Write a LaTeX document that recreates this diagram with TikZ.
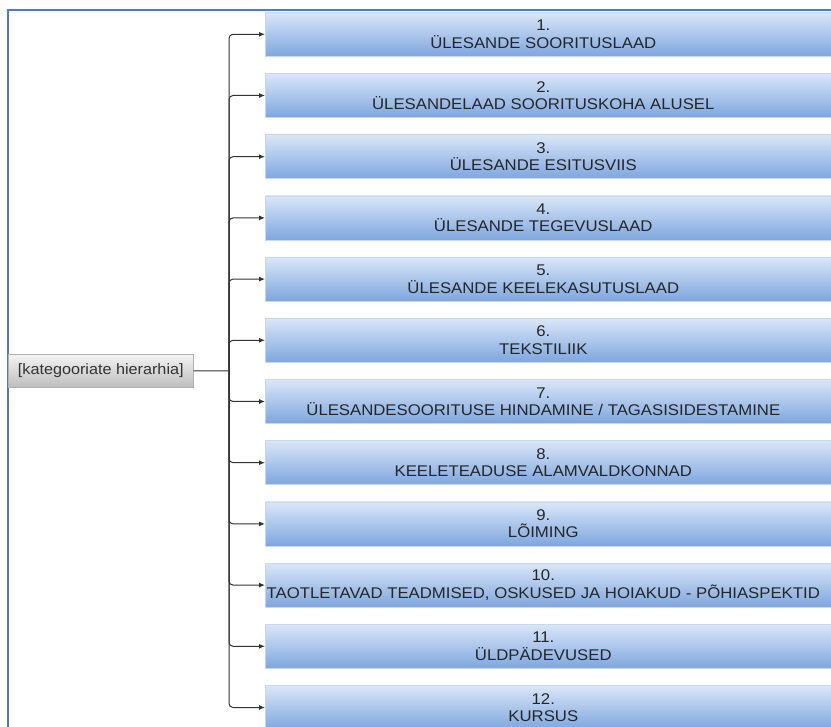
\documentclass[tikz,border=0pt]{standalone}
\usepackage{fontspec}
\setmainfont[FakeStretch=1.08]{Liberation Sans}
\usetikzlibrary{arrows.meta}
\definecolor{framecol}{HTML}{4A7BD0}
\definecolor{boxtop}{HTML}{DAE6F8}
\definecolor{boxbot}{HTML}{7EA6DE}
\definecolor{boxline}{HTML}{C9D7EC}
\definecolor{roottop}{HTML}{F4F4F4}
\definecolor{rootbot}{HTML}{BDBDBD}
\definecolor{rootline}{HTML}{B0B0B0}
\definecolor{connline}{HTML}{333333}
\newcommand{\shiftpad}{\hspace*{12pt}}
\tikzset{
  catbox/.style={rectangle, anchor=north west, minimum width=568pt, minimum height=44pt,
    inner sep=0pt, top color=boxtop, bottom color=boxbot, draw=boxline, line width=0.6pt,
    align=center, font=\fontsize{15.5}{17.5}\selectfont, text=black!85},
  rootbox/.style={rectangle, anchor=north west, minimum width=185pt, minimum height=33pt,
    inner sep=0pt, top color=roottop, bottom color=rootbot, draw=rootline, line width=0.6pt,
    font=\fontsize{15}{17}\selectfont, text=black!80},
  conn/.style={draw=connline, line width=1pt, rounded corners=4pt},
  arr/.style={conn, -{Latex[length=6pt,width=5pt]}}
}
\begin{document}
\begin{tikzpicture}[x=1pt,y=-1pt]
\useasboundingbox (0,0) rectangle (831,727);
\clip (0,0) rectangle (831,727);
% outer frame
\draw[framecol, line width=1.6pt] (8,740) -- (8,10) -- (840,10);
% root node
\node[rootbox] (root) at (8,354) {[kategooriate hierarhia]};
% category boxes
\foreach \i/\txt in {
  1/{ÜLESANDE SOORITUSLAAD},
  2/{ÜLESANDELAAD SOORITUSKOHA ALUSEL},
  3/{ÜLESANDE ESITUSVIIS},
  4/{ÜLESANDE TEGEVUSLAAD},
  5/{ÜLESANDE KEELEKASUTUSLAAD},
  6/{TEKSTILIIK},
  7/{ÜLESANDESOORITUSE HINDAMINE / TAGASISIDESTAMINE},
  8/{KEELETEADUSE ALAMVALDKONNAD},
  9/{LÕIMING},
  10/{TAOTLETAVAD TEADMISED, OSKUSED JA HOIAKUD - PÕHIASPEKTID},
  11/{ÜLDPÄDEVUSED},
  12/{KURSUS}}
{
  \node[catbox] (b\i) at (265,{12+61.2*(\i-1)}) {\i.\shiftpad\\\txt\shiftpad};
}
% connectors
\coordinate (tr) at (229,371);
\draw[conn] (root.east) -- (tr);
\foreach \i in {1,...,12}{
  \draw[arr] (tr) |- (b\i.west);
}
\end{tikzpicture}
\end{document}
